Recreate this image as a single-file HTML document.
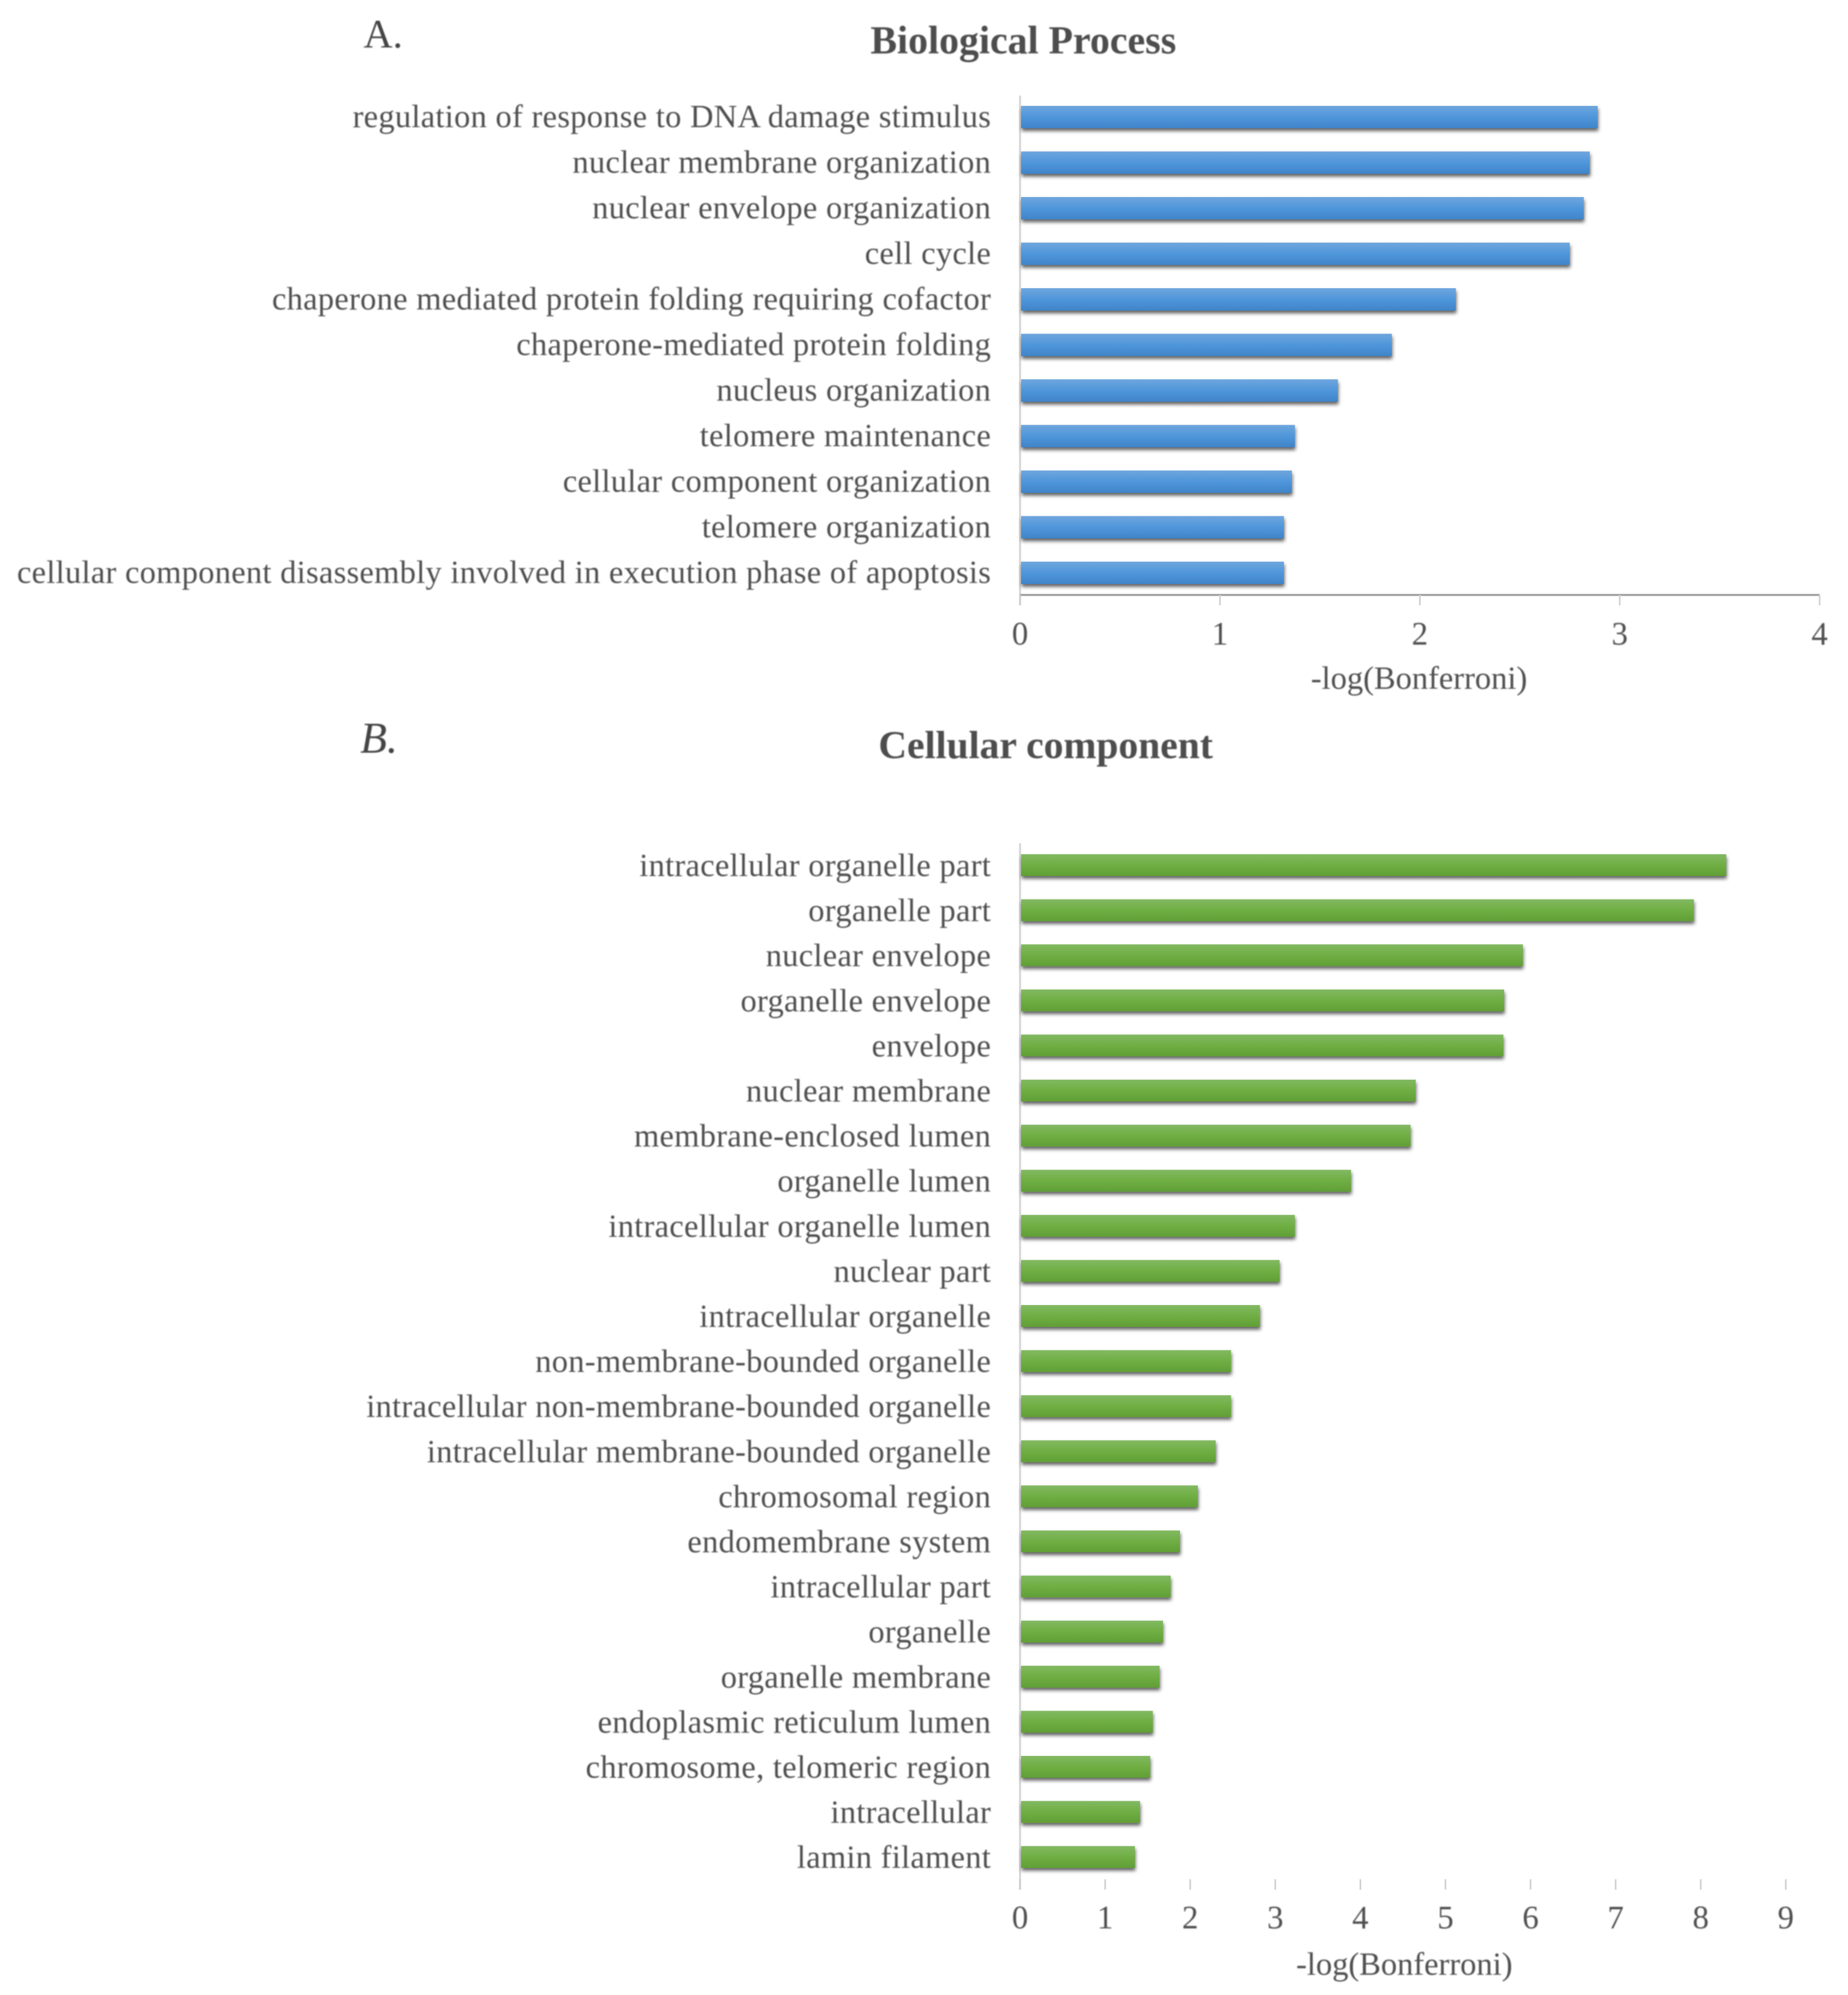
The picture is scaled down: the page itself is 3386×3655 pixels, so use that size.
<!DOCTYPE html>
<html lang="en">
<head>
<meta charset="utf-8">
<title>Biological Process and Cellular Component enrichment</title>
<style>
html,body{margin:0;padding:0;background:#fff}
svg{display:block}
text{font-family:"Liberation Serif",serif;fill:#505050}
</style>
</head>
<body>
<svg id="figure" xmlns="http://www.w3.org/2000/svg" width="3386" height="3655" viewBox="0 0 3386 3655">
<defs>
<linearGradient id="blueGrad" x1="0" y1="0" x2="0" y2="1">
<stop offset="0" stop-color="#6fa6de"/><stop offset="0.5" stop-color="#4f96da"/><stop offset="1" stop-color="#4084c8"/>
</linearGradient>
<linearGradient id="greenGrad" x1="0" y1="0" x2="0" y2="1">
<stop offset="0" stop-color="#82b962"/><stop offset="0.5" stop-color="#6fae43"/><stop offset="1" stop-color="#609f36"/>
</linearGradient>
<filter id="barShadow" x="-5%" y="-40%" width="110%" height="200%">
<feDropShadow dx="1" dy="5" stdDeviation="3.5" flood-color="#000" flood-opacity="0.62"/>
</filter>
<filter id="soft" x="-2%" y="-10%" width="104%" height="120%"><feGaussianBlur stdDeviation="1.1"/></filter>
</defs>
<rect width="3386" height="3655" fill="#fff"/>
<g id="chartA"></g>
<g id="chartB"></g>
<g filter="url(#soft)">
<text x="666" y="87" font-size="74" style="fill:#444">A.</text>
<text x="1875" y="98" font-size="73" font-weight="700" text-anchor="middle" style="fill:#4d4d4d">Biological Process</text>
<text x="660" y="1379" font-size="80" font-style="italic" style="fill:#444">B.</text>
<text x="1916" y="1389" font-size="72.5" font-weight="700" text-anchor="middle" style="fill:#4d4d4d">Cellular component</text>
</g>
</svg>
<script>
const bpCategories = [
  "regulation of response to DNA damage stimulus",
  "nuclear membrane organization",
  "nuclear envelope organization",
  "cell cycle",
  "chaperone mediated protein folding requiring cofactor",
  "chaperone-mediated protein folding",
  "nucleus organization",
  "telomere maintenance",
  "cellular component organization",
  "telomere organization",
  "cellular component disassembly involved in execution phase of apoptosis"
];
const bpValues = [2.89, 2.85, 2.82, 2.75, 2.18, 1.86, 1.59, 1.375, 1.36, 1.32, 1.32];
const bpTicks = [0, 1, 2, 3, 4];

const ccCategories = [
  "intracellular organelle part",
  "organelle part",
  "nuclear envelope",
  "organelle envelope",
  "envelope",
  "nuclear membrane",
  "membrane-enclosed lumen",
  "organelle lumen",
  "intracellular organelle lumen",
  "nuclear part",
  "intracellular organelle",
  "non-membrane-bounded organelle",
  "intracellular non-membrane-bounded organelle",
  "intracellular membrane-bounded organelle",
  "chromosomal region",
  "endomembrane system",
  "intracellular part",
  "organelle",
  "organelle membrane",
  "endoplasmic reticulum lumen",
  "chromosome, telomeric region",
  "intracellular",
  "lamin filament"
];
const ccValues = [8.3, 7.92, 5.91, 5.69, 5.68, 4.65, 4.59, 3.89, 3.23, 3.05, 2.82, 2.48, 2.48, 2.3, 2.09, 1.88, 1.77, 1.68, 1.64, 1.56, 1.53, 1.41, 1.35];
const ccTicks = [0, 1, 2, 3, 4, 5, 6, 7, 8, 9];

const NS = "http://www.w3.org/2000/svg";
function make(parent, tag, attrs, txt) {
  const el = document.createElementNS(NS, tag);
  for (const k in attrs) el.setAttribute(k, attrs[k]);
  if (txt !== undefined) el.textContent = txt;
  parent.appendChild(el);
  return el;
}

function drawChart(rootId, cfg, categories, values, ticks) {
  const root = document.getElementById(rootId);
  const x = v => cfg.x0 + (v / ticks[ticks.length - 1]) * (cfg.xMax - cfg.x0);
  const y = i => cfg.top + i * cfg.pitch;

  const barLayer = make(root, "g", {});
  
  
  const textLayer = make(root, "g", { filter: "url(#soft)" });
  
  

  const yAxis = make(barLayer, "line", { x1: cfg.x0, x2: cfg.x0, y1: cfg.axisTop, y2: cfg.tickBottom, stroke: "#d9d9d9", "stroke-width": 4 });
  
  

  if (cfg.showXLine) {
    const xAxis = make(barLayer, "line", { x1: x(0), x2: x(ticks[ticks.length - 1]), y1: cfg.axisY, y2: cfg.axisY, stroke: "#a6a6a6", "stroke-width": 4 });
    
    
  }

  ticks.forEach(t => {
    const tick = make(barLayer, "line", { x1: x(t), x2: x(t), y1: cfg.axisY, y2: cfg.tickBottom, stroke: "#d0d0d0", "stroke-width": 3 });
    
    
    const lab = make(textLayer, "text", { x: x(t), y: cfg.tickBaseline, "font-size": 60, "text-anchor": "middle" }, String(t));
    
    
  });

  categories.forEach((c, i) => {
    const bar = make(barLayer, "rect", { x: cfg.x0 + 2, y: y(i), width: Math.max(0, x(values[i]) - cfg.x0 - 2), height: cfg.barH, fill: cfg.fill, filter: "url(#barShadow)" });
    
    
    const lab = make(textLayer, "text", { x: 1816, y: y(i) + cfg.barH - 2 + cfg.labelShift, "font-size": cfg.labelSize, "text-anchor": "end", "letter-spacing": cfg.spacing }, c);
    
    
  });

  const xt = make(textLayer, "text", { x: cfg.xTitleX, y: cfg.xTitleY, "font-size": 59.5, "text-anchor": "middle" }, "-log(Bonferroni)");
  
  
}

drawChart("chartA", {
  x0: 1869, xMax: 3334, top: 194, pitch: 83.5, barH: 41, axisTop: 175, axisY: 1090, tickBottom: 1109,
  tickBaseline: 1181, xTitleX: 2600, xTitleY: 1262, fill: "url(#blueGrad)", showXLine: true, labelSize: 59.3, spacing: 0.6, labelShift: 0
}, bpCategories, bpValues, bpTicks);

drawChart("chartB", {
  x0: 1869, xMax: 3272, top: 1565, pitch: 82.6, barH: 40, axisTop: 1545, axisY: 3443, tickBottom: 3462,
  tickBaseline: 3533, xTitleX: 2573, xTitleY: 3618, fill: "url(#greenGrad)", showXLine: false, labelSize: 59.3, spacing: 0.6, labelShift: 2
}, ccCategories, ccValues, ccTicks);
</script>
</body>
</html>
